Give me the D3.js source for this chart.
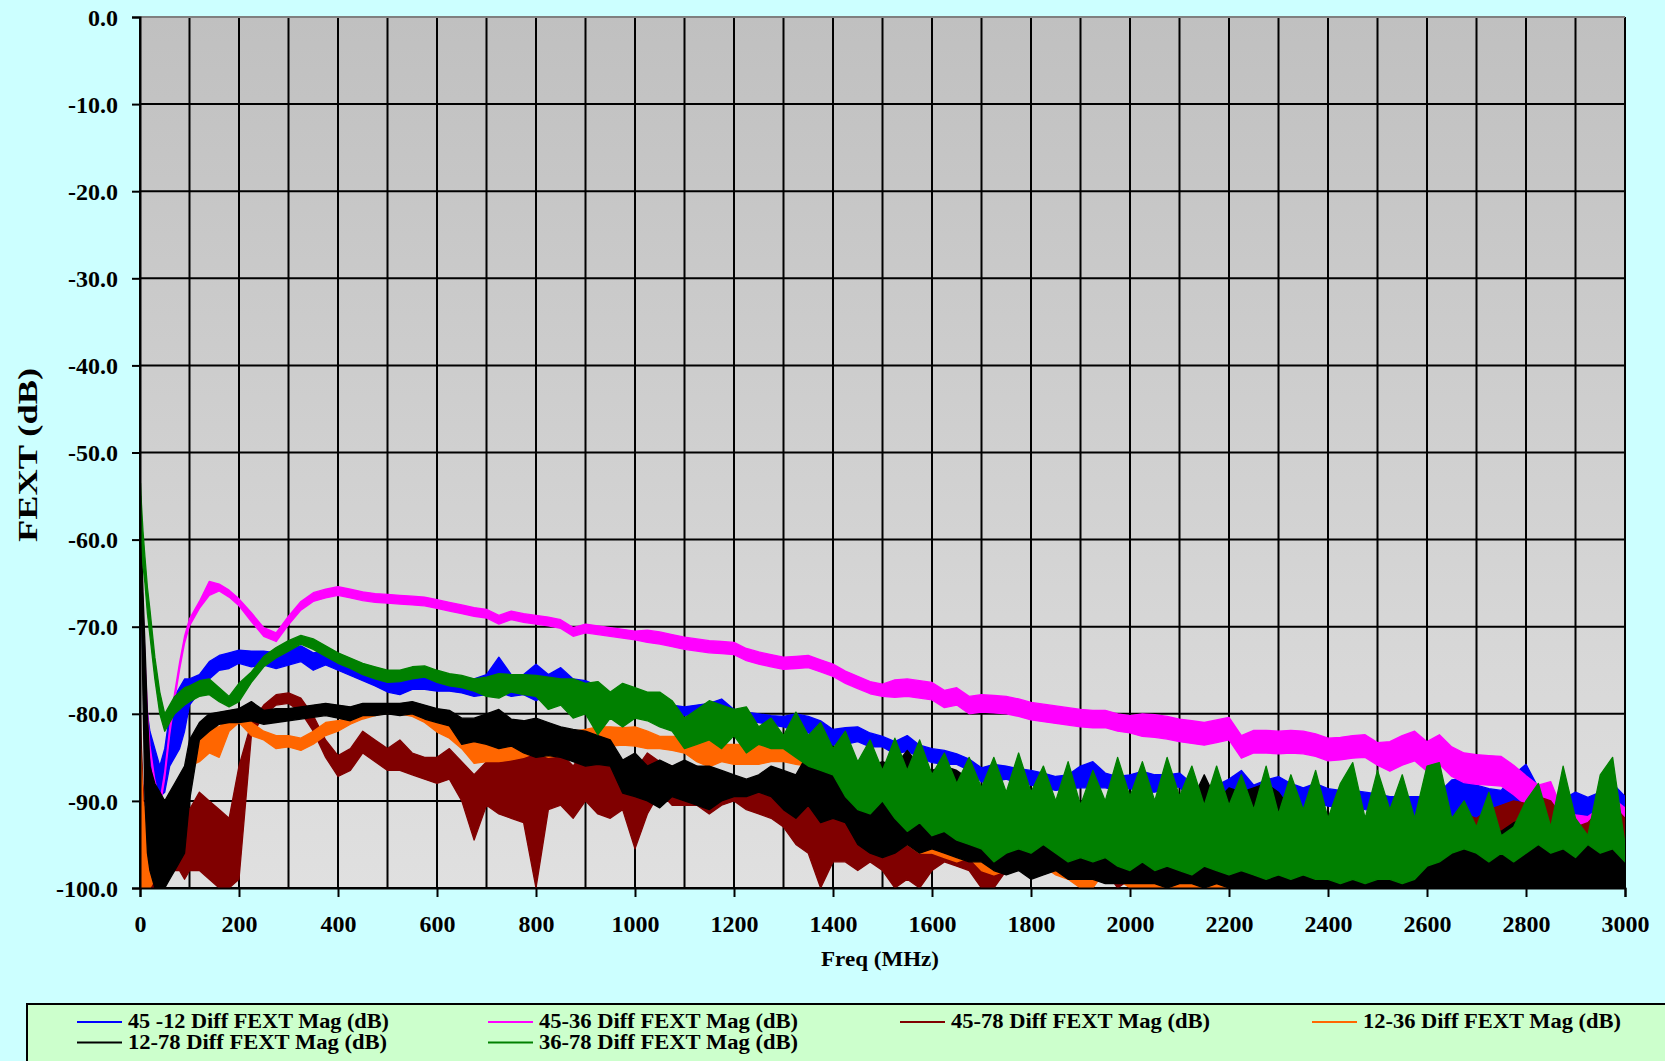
<!DOCTYPE html>
<html>
<head>
<meta charset="utf-8">
<script src="https://cdn.jsdelivr.net/npm/d3@7"></script>
<style>
  body { margin: 0; background: #ccffff; }
  svg text { font-family: "Liberation Serif", "Times New Roman", serif; font-weight: bold; fill: #000; }
</style>
</head>
<body>
<svg id="chart"></svg>
<script>
// frequency grid (MHz) shared by every series
const freqs = [1,3,6,10,15,20,30,40,50,60,70,80,90,100,120,140,160,180,200,
  225,250,275,300,325,350,375,400,425,450,475,500,525,550,575,600,625,650,675,700,
  725,750,775,800,825,850,875,900,925,950,975,1000,1025,1050,1075,1100,1125,1150,1175,1200,
  1225,1250,1275,1300,1325,1350,1375,1400,1425,1450,1475,1500,1525,1550,1575,1600,1625,1650,1675,1700,
  1725,1750,1775,1800,1825,1850,1875,1900,1925,1950,1975,2000,2025,2050,2075,2100,2125,2150,2175,2200,
  2225,2250,2275,2300,2325,2350,2375,2400,2425,2450,2475,2500,2525,2550,2575,2600,2625,2650,2675,2700,
  2725,2750,2775,2800,2825,2850,2875,2900,2925,2950,2975,3000];

// each series is a noisy trace: upper and lower edge of the band (dB)
const s4512Hi = [-62,-64,-70,-76,-80,-82,-84,-86,-84,-80,-78,-77,-76,-76,-75.5,-74,-73.3,-73,-72.7,
  -72.8,-72.8,-73.0,-72.6,-72.2,-73.0,-72.8,-73.5,-74.0,-74.6,-75.0,-75.8,-76.2,-75.6,-75.4,-75.6,-75.6,-75.8,-76.0,-75.5,
  -73.5,-75.5,-75.5,-74.3,-75.5,-74.7,-76.0,-76.2,-76.8,-78.2,-78.2,-78.3,-78.0,-78.6,-79.0,-79.2,-79.0,-78.8,-78.3,-79.5,
  -79.8,-80.0,-80.2,-80.3,-80.0,-80.3,-80.8,-81.8,-81.6,-81.5,-82.2,-82.6,-83.2,-82.5,-83.6,-84.0,-84.2,-84.6,-85.2,-86.2,
  -85.8,-86.0,-86.3,-86.5,-86.8,-87.2,-87.0,-86.0,-85.5,-86.8,-87.2,-87.0,-86.6,-87.0,-87.0,-86.8,-88.0,-88.6,-88.2,-87.5,
  -86.5,-88.2,-87.6,-87.2,-88.0,-88.5,-88.0,-88.6,-88.8,-88.8,-89.0,-89.2,-89.5,-89.5,-89.5,-89.5,-89.0,-87.6,-87.4,-88.2,
  -88.6,-88.8,-87.0,-85.8,-88.5,-89.5,-89.8,-89.0,-89.6,-89.0,-88.0,-89.5];
const s4512Lo = [-64,-68,-74,-80,-84,-86,-88,-89.5,-89,-86,-85,-84,-82,-79,-77.5,-76,-75,-74.8,-74.2,
  -74.6,-74.4,-74.8,-74.4,-74.0,-75.0,-74.4,-75.0,-75.6,-76.2,-76.8,-77.5,-77.8,-77.2,-77.2,-77.4,-77.4,-77.6,-78.0,-77.8,
  -77.5,-78.0,-77.8,-78.5,-77.8,-78.8,-77.8,-78.5,-79.0,-79.5,-79.6,-79.6,-79.2,-79.6,-80.0,-80.2,-80.3,-80.4,-80.5,-80.8,
  -80.8,-81.0,-81.3,-81.5,-82.0,-82.2,-82.8,-83.6,-83.5,-83.2,-83.8,-83.8,-84.6,-84.3,-85.0,-85.6,-85.8,-85.8,-86.5,-87.8,
  -87.8,-87.5,-88.0,-88.2,-88.5,-88.8,-88.6,-88.5,-88.5,-88.5,-88.8,-88.6,-89.0,-89.0,-88.6,-88.4,-90.0,-90.5,-90.3,-89.5,
  -89.2,-90.0,-90.0,-90.3,-90.5,-90.8,-90.2,-90.6,-90.8,-90.6,-91.0,-91.2,-91.5,-91.8,-92.0,-92.0,-92.0,-91.8,-92.0,-92.5,
  -93.0,-93.2,-93.0,-93.5,-92.5,-93.0,-93.0,-91.5,-92.8,-92.0,-92.5,-93.5];

const s4536Hi = [-60.6,-62.6,-67.6,-73.6,-79.6,-83.6,-87.6,-90.1,-86.6,-81.6,-77.6,-74.1,-71.1,-69.1,-67.1,-64.8,-65.1,-65.8,-66.8,
  -68.4,-70.1,-70.7,-68.8,-67.1,-66.1,-65.7,-65.4,-65.7,-66.0,-66.2,-66.3,-66.4,-66.5,-66.6,-66.9,-67.2,-67.5,-67.8,-68.0,
  -68.7,-68.2,-68.5,-68.7,-68.9,-69.2,-70.1,-69.7,-69.9,-70.1,-70.3,-70.5,-70.4,-70.6,-70.9,-71.2,-71.4,-71.6,-71.7,-71.8,
  -72.5,-72.9,-73.2,-73.5,-73.4,-73.3,-73.8,-74.3,-75.1,-75.7,-76.3,-76.6,-76.1,-76.0,-76.2,-76.4,-77.3,-77.0,-78.0,-77.8,
  -77.9,-78.0,-78.3,-78.7,-78.9,-79.1,-79.3,-79.5,-79.6,-79.6,-80.0,-80.2,-80.0,-80.1,-80.3,-80.6,-80.8,-81.0,-80.7,-80.4,
  -82.5,-81.9,-81.9,-82.0,-81.9,-82.0,-82.3,-82.8,-82.7,-82.5,-82.4,-83.3,-83.2,-82.5,-82.0,-83.2,-82.4,-83.8,-84.5,-84.7,
  -84.8,-84.9,-85.9,-87.1,-88.2,-87.8,-91.3,-91.6,-91.8,-90.8,-89.7,-90.8];
const s4536Lo = [-61.4,-63.4,-68.4,-74.4,-80.4,-84.4,-88.4,-90.9,-87.4,-82.4,-78.4,-74.9,-71.9,-69.9,-67.9,-66.4,-65.9,-66.6,-67.6,
  -69.4,-71.1,-71.7,-69.8,-68.1,-67.1,-66.7,-66.4,-66.7,-67.0,-67.2,-67.3,-67.4,-67.5,-67.6,-67.9,-68.2,-68.5,-68.8,-69.0,
  -69.7,-69.2,-69.5,-69.7,-69.9,-70.2,-71.1,-70.7,-70.9,-71.1,-71.3,-71.5,-71.8,-72.0,-72.3,-72.6,-72.8,-73.0,-73.1,-73.2,
  -73.9,-74.3,-74.6,-74.9,-74.8,-74.7,-75.2,-75.7,-76.5,-77.1,-77.7,-78.0,-78.1,-78.0,-78.2,-78.4,-79.3,-79.0,-80.0,-79.8,
  -79.9,-80.0,-80.3,-80.7,-80.9,-81.1,-81.3,-81.5,-81.6,-81.6,-82.0,-82.2,-82.6,-82.7,-82.9,-83.2,-83.4,-83.6,-83.3,-83.0,
  -85.1,-84.5,-84.5,-84.6,-84.5,-84.6,-84.9,-85.4,-85.3,-85.1,-85.0,-85.9,-86.6,-85.9,-85.4,-86.6,-85.8,-87.2,-87.9,-88.1,
  -88.2,-88.3,-89.3,-90.5,-91.6,-91.2,-94.7,-95.0,-95.2,-94.2,-93.1,-94.2];

const s4578Hi = [-80,-84,-88,-92,-94,-93,-93,-92,-91,-91,-92,-91,-90,-91,-89,-90,-91,-92,-86,
  -81.0,-79.0,-77.8,-77.6,-78.2,-80.2,-83.0,-84.8,-84.0,-82.0,-83.0,-84.0,-83.0,-84.5,-85.0,-85.0,-84.0,-85.5,-87.0,-85.5,
  -85.5,-84.0,-84.0,-83.5,-83.5,-84.5,-86.0,-84.0,-84.5,-85.5,-86.0,-86.5,-84.5,-85.5,-86.0,-87.5,-86.0,-87.0,-87.0,-87.5,
  -88.0,-87.5,-88.0,-88.5,-88.5,-89.0,-89.5,-88.5,-88.5,-89.0,-89.5,-89.5,-91.0,-91.5,-92.0,-92.0,-92.0,-91.0,-91.5,-93.0,
  -93.5,-93.0,-92.5,-93.0,-92.0,-92.5,-93.5,-94.0,-94.0,-94.0,-95.0,-95.0,-95.0,-95.5,-96.0,-95.5,-96.0,-95.5,-96.0,-96.0,
  -96.0,-96.0,-96.0,-96.0,-96.0,-96.0,-96.0,-96.0,-96.0,-96.0,-96.0,-96.0,-96.0,-96.0,-96.0,-96.0,-95.0,-93.0,-91.5,-92.0,
  -91.0,-90.5,-90.0,-90.3,-89.5,-90.0,-92.0,-93.0,-92.5,-91.0,-90.5,-92.0];
const s4578Lo = [-86,-92,-98,-100,-100,-100,-100,-100,-99,-98,-98,-98,-99,-98,-98,-99,-100,-100,-99,
  -82.5,-80.2,-79.0,-78.8,-79.8,-82.0,-85.0,-87.2,-86.5,-84.5,-85.5,-86.5,-86.5,-87.0,-87.5,-88.0,-87.5,-90.0,-94.5,-90.5,
  -91.5,-92.0,-92.5,-100,-91.0,-90.5,-92.0,-90.0,-91.5,-92.0,-91.0,-95.5,-91.5,-89.0,-90.5,-90.5,-90.5,-91.5,-90.5,-90.0,
  -91.0,-91.5,-92.0,-93.0,-95.0,-96.0,-100,-97.0,-97.0,-98.0,-97.0,-98.0,-100,-99.0,-100,-98.0,-97.0,-97.5,-98.0,-100,
  -100,-98.0,-97.0,-97.5,-96.0,-97.0,-97.5,-98.0,-98.5,-98.0,-100,-99.0,-99.5,-100,-100,-100,-100,-100,-100,-100,
  -100,-100,-100,-100,-100,-100,-100,-100,-100,-100,-100,-100,-100,-100,-100,-100,-100,-99.0,-98.0,-98.0,
  -97.0,-97.0,-96.5,-96.0,-96.0,-96.0,-97.0,-98.0,-98.0,-97.0,-96.5,-98.0];

const s1236Hi = [-84,-86,-90,-91,-92,-92,-91,-92,-91,-90,-89,-89,-88,-84.5,-83,-81.5,-81.5,-80.3,-80,
  -81.0,-82.0,-82.5,-82.5,-82.8,-82.0,-81.0,-80.8,-80.3,-79.6,-79.2,-79.1,-79.1,-79.3,-80.0,-80.8,-81.2,-82.0,-82.5,-82.5,
  -82.5,-81.5,-82.0,-82.5,-82.0,-82.3,-82.0,-81.8,-81.5,-81.5,-81.6,-81.5,-82.0,-82.6,-82.6,-82.6,-82.8,-83.0,-83.5,-83.5,
  -83.5,-83.5,-83.5,-83.5,-84.0,-84.3,-85.0,-85.5,-86.5,-88.5,-90.5,-91.5,-90.5,-91.0,-92.0,-91.5,-92.0,-91.0,-91.0,-92.0,
  -91.5,-93.0,-92.8,-93.0,-92.0,-93.0,-93.6,-94.0,-93.6,-93.5,-94.0,-94.5,-95.0,-95.5,-95.0,-96.0,-96.0,-96.0,-96.5,-97.0,
  -97.0,-97.0,-97.5,-97.0,-97.5,-97.5,-97.5,-97.5,-97.5,-97.5,-97.5,-97.5,-97.5,-97.5,-97.5,-97.5,-97.5,-97.5,-97.5,-97.0,
  -97.0,-97.5,-97.5,-97.5,-97.5,-97.5,-97.5,-97.5,-95.0,-92.5,-93.0,-95.0];
const s1236Lo = [-97,-100,-100,-100,-100,-100,-99,-100,-98,-97,-96,-96,-95,-86,-85.5,-84.5,-85,-82,-81,
  -82.5,-83.0,-84.0,-83.8,-84.2,-83.5,-82.5,-82.0,-81.2,-80.6,-80.2,-79.9,-80.0,-80.3,-81.0,-82.1,-82.8,-84.0,-85.7,-85.5,
  -85.5,-85.3,-85.0,-84.5,-85.0,-84.8,-84.5,-84.0,-83.7,-83.7,-83.6,-83.7,-84.0,-84.0,-84.2,-84.5,-85.5,-86.1,-85.5,-85.8,
  -85.8,-85.8,-85.5,-85.5,-85.8,-86.0,-86.8,-89.0,-90.0,-91.5,-94.0,-94.5,-93.5,-95.0,-96.0,-96.0,-96.5,-97.0,-96.5,-98.0,
  -98.5,-98.0,-97.4,-98.0,-97.5,-98.5,-99.0,-100,-100,-98.0,-99.0,-100,-100,-100,-100,-100,-100,-100,-100,-100,
  -100,-100,-100,-100,-100,-100,-100,-100,-100,-100,-100,-100,-100,-100,-100,-100,-100,-100,-100,-100,
  -100,-100,-100,-100,-100,-100,-100,-100,-99.0,-98.0,-98.5,-99.5];

const s1278Hi = [-55,-60,-66,-72,-80,-86,-88,-89,-90,-89,-88,-87,-86,-83,-81,-80,-79.8,-79.6,-79.4,
  -78.6,-79.6,-79.4,-79.4,-79.2,-79.0,-78.8,-79.0,-79.2,-78.8,-78.8,-78.8,-78.8,-78.6,-79.0,-79.4,-79.6,-80.5,-80.5,-80.0,
  -79.5,-80.6,-80.8,-80.5,-81.0,-81.5,-81.8,-82.0,-82.5,-83.0,-85.3,-84.5,-86.0,-85.3,-86.0,-85.3,-86.0,-86.0,-86.5,-87.0,
  -87.5,-87.0,-86.0,-86.5,-87.0,-84.5,-86.5,-85.0,-86.0,-88.5,-86.0,-85.5,-86.0,-84.2,-86.0,-86.5,-86.0,-86.5,-87.5,-88.5,
  -91.3,-91.5,-91.8,-92.0,-92.5,-92.5,-92.0,-91.5,-92.0,-92.5,-93.0,-92.5,-93.0,-93.0,-92.5,-92.0,-90.0,-87.0,-90.0,-88.5,
  -89.0,-88.5,-88.0,-89.0,-91.0,-92.0,-93.0,-92.5,-93.0,-93.0,-93.5,-93.0,-93.0,-93.5,-93.0,-92.5,-92.0,-93.0,-93.5,-94.0,
  -93.0,-93.5,-92.5,-92.0,-93.0,-93.5,-93.0,-93.5,-94.0,-93.0,-94.5,-95.0];
const s1278Lo = [-60,-68,-78,-90,-96,-98,-100,-100,-100,-99,-98,-97,-96,-90,-83,-82,-81.2,-81,-81,
  -80.8,-81.2,-81.0,-80.8,-80.6,-80.4,-80.2,-80.5,-80.8,-80.2,-80.2,-80.0,-80.2,-80.0,-80.6,-81.0,-81.4,-83.5,-83.2,-83.5,
  -84.0,-83.7,-84.5,-85.0,-84.8,-85.0,-85.5,-86.0,-85.8,-86.0,-89.1,-89.5,-90.0,-90.8,-89.5,-90.0,-90.5,-91.0,-90.0,-89.5,
  -89.5,-89.0,-89.5,-91.0,-92.0,-90.5,-92.5,-92.0,-92.5,-95.0,-96.0,-96.5,-96.0,-95.0,-96.0,-95.5,-96.0,-96.5,-97.0,-97.0,
  -98.0,-98.5,-98.0,-99.0,-98.5,-98.0,-99.0,-99.0,-99.0,-99.5,-99.5,-99.5,-99.5,-99.5,-100,-99.5,-99.5,-100,-99.5,-100,
  -100,-100,-100,-100,-100,-100,-100,-100,-100,-100,-100,-100,-100,-100,-100,-100,-100,-100,-100,-100,
  -100,-100,-100,-100,-100,-100,-100,-100,-100,-100,-100,-100];

const s3678Hi = [-53.5,-56,-59,-62,-65.5,-68,-73.5,-77.5,-80,-79,-78,-77.5,-77,-76.8,-76.2,-76,-77,-78,-76.5,
  -75.2,-73.4,-72.4,-71.6,-71.0,-71.4,-72.2,-73.0,-73.6,-74.2,-74.6,-75.0,-75.0,-74.6,-74.5,-75.0,-75.4,-75.6,-76.0,-75.8,
  -75.4,-75.5,-75.5,-75.6,-75.8,-76.0,-76.0,-76.5,-76.3,-77.5,-76.5,-77.0,-77.5,-77.5,-78.5,-80.5,-79.5,-78.5,-79.0,-79.5,
  -79.2,-81.5,-80.5,-82.5,-79.8,-82.5,-81.0,-84.0,-82.0,-85.5,-83.0,-86.5,-82.8,-86.5,-83.0,-87.0,-84.5,-88.0,-85.0,-88.5,
  -85.0,-89.0,-84.5,-89.0,-86.0,-90.0,-85.5,-90.5,-86.5,-90.0,-85.0,-89.5,-85.5,-90.0,-85.0,-89.5,-86.0,-90.5,-86.0,-90.5,
  -87.0,-91.0,-86.0,-91.5,-87.0,-91.0,-86.5,-92.0,-88.0,-85.6,-92.0,-86.5,-91.0,-87.0,-92.0,-86.0,-85.6,-92.0,-90.0,-93.0,
  -89.0,-94.0,-93.0,-90.0,-88.0,-93.0,-86.0,-92.0,-94.0,-87.0,-85.0,-95.0];
const s3678Lo = [-56,-60,-63,-65,-68.5,-71,-76,-80,-82,-81,-80,-79.5,-79,-78.6,-78,-77.8,-78.6,-79.2,-78.6,
  -76.4,-74.6,-73.6,-72.8,-72.0,-72.6,-73.4,-74.2,-74.8,-75.5,-76.0,-76.4,-76.3,-76.0,-75.8,-76.4,-76.8,-77.0,-77.4,-78.0,
  -78.2,-77.5,-77.8,-78.0,-79.5,-79.0,-80.5,-80.0,-82.4,-80.5,-81.5,-80.5,-80.8,-81.5,-82.0,-84.0,-83.5,-83.0,-84.0,-82.5,
  -84.5,-83.5,-84.0,-84.0,-85.0,-86.0,-86.5,-87.0,-89.5,-91.0,-91.5,-90.0,-92.0,-93.5,-92.5,-94.0,-93.5,-94.5,-95.0,-95.5,
  -97.0,-96.0,-95.5,-96.0,-95.0,-96.0,-97.0,-96.5,-97.0,-96.5,-97.5,-98.0,-97.0,-98.0,-97.5,-98.0,-98.5,-97.5,-98.0,-98.5,
  -98.0,-98.5,-99.0,-98.5,-99.0,-98.5,-99.0,-99.0,-99.5,-99.0,-99.5,-99.0,-99.0,-99.5,-99.0,-97.5,-97.0,-96.0,-95.5,-96.0,
  -97.0,-96.0,-97.0,-96.0,-95.0,-96.0,-95.5,-96.5,-95.0,-96.0,-95.5,-97.0];

const seriesNames = ['45 -12 Diff FEXT Mag (dB)', '45-36 Diff FEXT Mag (dB)', '45-78 Diff FEXT Mag (dB)',
  '12-36 Diff FEXT Mag (dB)', '12-78 Diff FEXT Mag (dB)', '36-78 Diff FEXT Mag (dB)'];
const seriesColors = ['#0000ff', '#ff00ff', '#800000', '#ff6600', '#000000', '#008000'];
const seriesHi = [s4512Hi, s4536Hi, s4578Hi, s1236Hi, s1278Hi, s3678Hi];
const seriesLo = [s4512Lo, s4536Lo, s4578Lo, s1236Lo, s1278Lo, s3678Lo];

const xTicks = [0,200,400,600,800,1000,1200,1400,1600,1800,2000,2200,2400,2600,2800,3000];
const xGrid = [0,100,200,300,400,500,600,700,800,900,1000,1100,1200,1300,1400,1500,1600,1700,1800,1900,
  2000,2100,2200,2300,2400,2500,2600,2700,2800,2900,3000];
const yTicks = [0,-10,-20,-30,-40,-50,-60,-70,-80,-90,-100];

// layout
const W = 1665, H = 1061;
const plot = {left: 140, right: 1625, top: 17, bottom: 888};

const svg = d3.select('#chart').attr('width', W).attr('height', H);

const x = d3.scaleLinear().domain([0, 3000]).range([plot.left, plot.right]);
const y = d3.scaleLinear().domain([-100, 0]).range([plot.bottom, plot.top]);

const defs = svg.append('defs');
const grad = defs.append('linearGradient')
    .attr('id', 'bg').attr('x1', 0).attr('y1', 0).attr('x2', 0).attr('y2', 1);
grad.append('stop').attr('offset', '0%').attr('stop-color', '#c0c0c0');
grad.append('stop').attr('offset', '100%').attr('stop-color', '#e0e0e0');

defs.append('clipPath').attr('id', 'clip')
  .append('rect')
    .attr('x', plot.left).attr('y', plot.top - 1)
    .attr('width', plot.right - plot.left).attr('height', plot.bottom - plot.top + 1);

// plot background
svg.append('rect')
    .attr('x', plot.left).attr('y', plot.top)
    .attr('width', plot.right - plot.left).attr('height', plot.bottom - plot.top)
    .attr('fill', 'url(#bg)');

// gridlines
svg.append('g').selectAll('line')
    .data(xGrid)
  .join('line')
    .attr('x1', d => x(d)).attr('x2', d => x(d))
    .attr('y1', plot.top).attr('y2', plot.bottom)
    .attr('stroke', '#000').attr('stroke-width', 2);

svg.append('g').selectAll('line')
    .data(yTicks)
  .join('line')
    .attr('x1', plot.left).attr('x2', plot.right)
    .attr('y1', d => y(d)).attr('y2', d => y(d))
    .attr('stroke', d => d === 0 ? '#808080' : '#000')
    .attr('stroke-width', 2);

// series bands
const area = d3.area()
    .x((d, i) => x(freqs[i]))
    .y0(d => y(d[1]))
    .y1(d => y(d[0]));

const seriesG = svg.append('g').attr('clip-path', 'url(#clip)');
seriesNames.forEach((name, k) => {
  const pts = seriesHi[k].map((v, i) => [v, seriesLo[k][i]]);
  seriesG.append('path')
      .datum(pts)
      .attr('d', area)
      .attr('fill', seriesColors[k])
      .attr('stroke', seriesColors[k])
      .attr('stroke-width', 1.3)
      .attr('stroke-linejoin', 'round');
});

// axes
const yAxis = d3.axisLeft(y)
    .tickValues(yTicks)
    .tickSize(8)
    .tickPadding(14)
    .tickFormat(d => d.toFixed(1));

const xAxis = d3.axisBottom(x)
    .tickValues(xTicks)
    .tickSize(9)
    .tickPadding(18)
    .tickFormat(d => d);

const yAxisG = svg.append('g')
    .attr('transform', `translate(${plot.left},0)`)
    .call(yAxis);
const xAxisG = svg.append('g')
    .attr('transform', `translate(0,${plot.bottom})`)
    .call(xAxis);

[yAxisG, xAxisG].forEach(g => {
  g.selectAll('path.domain').attr('stroke', '#000').attr('stroke-width', 2);
  g.selectAll('.tick line').attr('stroke', '#000').attr('stroke-width', 2);
  g.selectAll('.tick text')
      .attr('fill', '#000')
      .style('font-size', '24px')
      .style('font-family', '"Liberation Serif", "Times New Roman", serif')
      .style('font-weight', 'bold');
});
yAxisG.selectAll('.tick text').attr('dy', '0.34em');

// axis titles
svg.append('text')
    .attr('x', 880).attr('y', 966)
    .attr('text-anchor', 'middle')
    .attr('textLength', 118).attr('lengthAdjust', 'spacingAndGlyphs')
    .style('font-size', '22px')
    .text('Freq (MHz)');

svg.append('text')
    .attr('transform', 'translate(37,455) rotate(-90)')
    .attr('text-anchor', 'middle')
    .attr('textLength', 174).attr('lengthAdjust', 'spacingAndGlyphs')
    .style('font-size', '27px')
    .text('FEXT (dB)');

// legend
svg.append('rect')
    .attr('x', 27).attr('y', 1004)
    .attr('width', 1700).attr('height', 100)
    .attr('fill', '#ccffcc')
    .attr('stroke', '#000').attr('stroke-width', 2);

const legendPos = [
  {lx: 77, tx: 128, w: 261, row: 0},
  {lx: 488, tx: 539, w: 259, row: 0},
  {lx: 900, tx: 951, w: 259, row: 0},
  {lx: 1312, tx: 1363, w: 258, row: 0},
  {lx: 77, tx: 128, w: 259, row: 1},
  {lx: 488, tx: 539, w: 259, row: 1}
];

const legend = svg.append('g');
seriesNames.forEach((name, k) => {
  const p = legendPos[k];
  const ly = 1022 + p.row * 20.5;
  legend.append('line')
      .attr('x1', p.lx).attr('x2', p.lx + 45)
      .attr('y1', ly).attr('y2', ly)
      .attr('stroke', seriesColors[k]).attr('stroke-width', 2);
  legend.append('text')
      .attr('x', p.tx).attr('y', ly + 6)
      .attr('textLength', p.w).attr('lengthAdjust', 'spacingAndGlyphs')
      .style('font-size', '20px')
      .text(name);
});
</script>
</body>
</html>
